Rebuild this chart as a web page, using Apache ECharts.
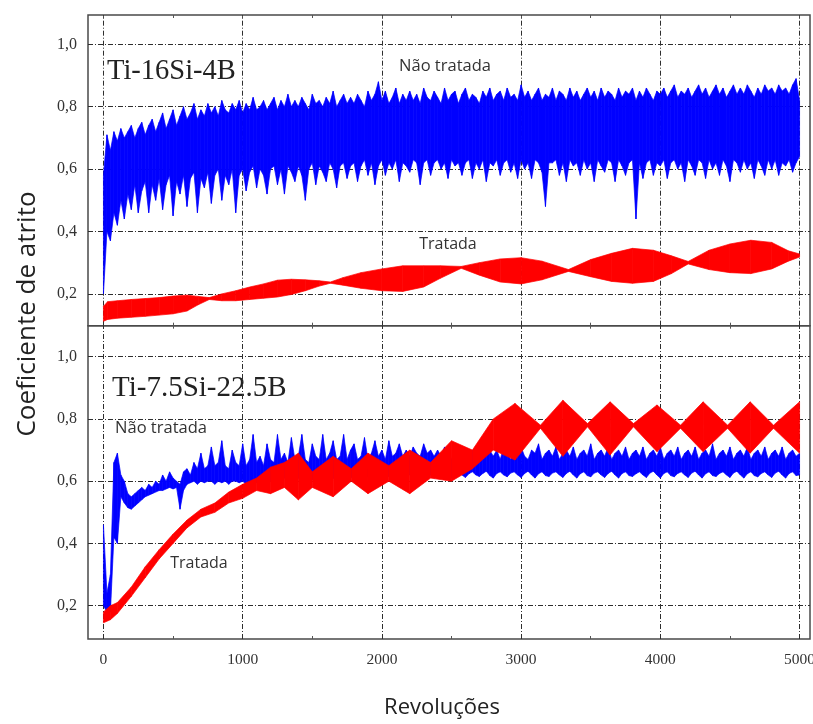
<!DOCTYPE html>
<html>
<head>
<meta charset="utf-8">
<script src="https://cdn.jsdelivr.net/npm/echarts@6/dist/echarts.min.js"></script>
<style>
  html, body { margin: 0; padding: 0; background: #fff; }
  #chart { width: 813px; height: 724px; }
</style>
</head>
<body>
<div id="chart"></div>
<script>
// Axis ticks
const revTicks = [0, 1000, 2000, 3000, 4000, 5000];
const revMinorTicks = [0, 500, 1000, 1500, 2000, 2500, 3000, 3500, 4000, 4500, 5000];
const coefTicks = [0.2, 0.4, 0.6, 0.8, 1.0];

// Sampling positions (revolutions) for the untreated (blue) signals
const revFine = [
  0, 25, 50, 75, 100, 125, 150, 175,
  200, 225, 250, 275, 300, 325, 350, 375,
  400, 425, 450, 475, 500, 525, 550, 575,
  600, 625, 650, 675, 700, 725, 750, 775,
  800, 825, 850, 875, 900, 925, 950, 975,
  1000, 1025, 1050, 1075, 1100, 1125, 1150, 1175,
  1200, 1225, 1250, 1275, 1300, 1325, 1350, 1375,
  1400, 1425, 1450, 1475, 1500, 1525, 1550, 1575,
  1600, 1625, 1650, 1675, 1700, 1725, 1750, 1775,
  1800, 1825, 1850, 1875, 1900, 1925, 1950, 1975,
  2000, 2025, 2050, 2075, 2100, 2125, 2150, 2175,
  2200, 2225, 2250, 2275, 2300, 2325, 2350, 2375,
  2400, 2425, 2450, 2475, 2500, 2525, 2550, 2575,
  2600, 2625, 2650, 2675, 2700, 2725, 2750, 2775,
  2800, 2825, 2850, 2875, 2900, 2925, 2950, 2975,
  3000, 3025, 3050, 3075, 3100, 3125, 3150, 3175,
  3200, 3225, 3250, 3275, 3300, 3325, 3350, 3375,
  3400, 3425, 3450, 3475, 3500, 3525, 3550, 3575,
  3600, 3625, 3650, 3675, 3700, 3725, 3750, 3775,
  3800, 3825, 3850, 3875, 3900, 3925, 3950, 3975,
  4000, 4025, 4050, 4075, 4100, 4125, 4150, 4175,
  4200, 4225, 4250, 4275, 4300, 4325, 4350, 4375,
  4400, 4425, 4450, 4475, 4500, 4525, 4550, 4575,
  4600, 4625, 4650, 4675, 4700, 4725, 4750, 4775,
  4800, 4825, 4850, 4875, 4900, 4925, 4950, 4975,
  5000
];

// Ti-16Si-4B, não tratada: lower / upper extent of the oscillation
const topUntreatedLo = [
  0.20, 0.40, 0.37, 0.46, 0.42, 0.50, 0.44, 0.52,
  0.47, 0.55, 0.46, 0.53, 0.56, 0.46, 0.55, 0.50,
  0.57, 0.47, 0.55, 0.58, 0.45, 0.56, 0.52, 0.58,
  0.48, 0.57, 0.59, 0.46, 0.57, 0.54, 0.59, 0.49,
  0.58, 0.60, 0.50, 0.58, 0.55, 0.60, 0.46, 0.58,
  0.60, 0.53, 0.59, 0.61, 0.54, 0.60, 0.58, 0.52,
  0.60, 0.61, 0.55, 0.60, 0.52, 0.61, 0.59, 0.56,
  0.61, 0.58, 0.50, 0.60, 0.62, 0.55, 0.61, 0.59,
  0.56, 0.62, 0.60, 0.54, 0.61, 0.62, 0.57, 0.61,
  0.62, 0.56, 0.61, 0.63, 0.58, 0.62, 0.55, 0.61,
  0.63, 0.58, 0.62, 0.60, 0.63, 0.56, 0.62, 0.61,
  0.59, 0.63, 0.62, 0.55, 0.62, 0.63, 0.58, 0.62,
  0.63, 0.60, 0.62, 0.57, 0.63, 0.61, 0.62, 0.58,
  0.62, 0.63, 0.57, 0.62, 0.60, 0.63, 0.56, 0.62,
  0.61, 0.63, 0.58, 0.62, 0.63, 0.59, 0.62, 0.57,
  0.63, 0.60, 0.62, 0.57, 0.63, 0.62, 0.59, 0.48,
  0.62, 0.62, 0.63, 0.58, 0.62, 0.56, 0.63, 0.61,
  0.62, 0.58, 0.63, 0.60, 0.62, 0.56, 0.63, 0.61,
  0.59, 0.63, 0.62, 0.56, 0.63, 0.61, 0.58, 0.62,
  0.63, 0.44, 0.62, 0.57, 0.62, 0.63, 0.58, 0.62,
  0.61, 0.63, 0.57, 0.62, 0.63, 0.60, 0.62, 0.56,
  0.63, 0.61, 0.58, 0.63, 0.62, 0.57, 0.63, 0.60,
  0.62, 0.58, 0.63, 0.61, 0.56, 0.63, 0.62, 0.59,
  0.63, 0.60, 0.62, 0.57, 0.63, 0.61, 0.58, 0.63,
  0.60, 0.63, 0.58, 0.62, 0.61, 0.63, 0.59, 0.62,
  0.64
];
const topUntreatedHi = [
  0.58, 0.71, 0.66, 0.72, 0.69, 0.73, 0.70, 0.72,
  0.74, 0.70, 0.73, 0.75, 0.71, 0.74, 0.76, 0.72,
  0.75, 0.78, 0.73, 0.76, 0.79, 0.74, 0.77, 0.80,
  0.76, 0.78, 0.81, 0.76, 0.79, 0.77, 0.81, 0.78,
  0.80, 0.77, 0.82, 0.79, 0.78, 0.81, 0.79, 0.82,
  0.78, 0.81, 0.79, 0.83, 0.79, 0.80, 0.82, 0.79,
  0.81, 0.83, 0.79, 0.82, 0.80, 0.84, 0.80, 0.82,
  0.80, 0.83, 0.81, 0.79, 0.84, 0.81, 0.82, 0.80,
  0.83, 0.81, 0.85, 0.80, 0.82, 0.84, 0.81, 0.83,
  0.81, 0.84, 0.82, 0.80, 0.85, 0.82, 0.84, 0.88,
  0.82, 0.85, 0.81, 0.83, 0.86, 0.81, 0.84, 0.82,
  0.85, 0.82, 0.84, 0.81, 0.86, 0.83, 0.82, 0.85,
  0.83, 0.81, 0.86, 0.82, 0.84, 0.85, 0.81, 0.84,
  0.86, 0.82, 0.84, 0.83, 0.81, 0.85, 0.83, 0.86,
  0.82, 0.84, 0.85, 0.82, 0.86, 0.83, 0.84, 0.82,
  0.87, 0.83, 0.85, 0.82, 0.84, 0.86, 0.82, 0.84,
  0.83, 0.86, 0.82, 0.85, 0.84, 0.82, 0.86, 0.83,
  0.85, 0.82, 0.84, 0.86, 0.83, 0.85, 0.82, 0.86,
  0.83, 0.85, 0.84, 0.82, 0.86, 0.83, 0.85, 0.84,
  0.86, 0.82, 0.85, 0.83, 0.86, 0.84, 0.82, 0.85,
  0.84, 0.86, 0.83, 0.85, 0.87, 0.83, 0.85, 0.84,
  0.86, 0.83, 0.85, 0.87, 0.84, 0.86, 0.83, 0.85,
  0.87, 0.84, 0.86, 0.83, 0.85, 0.87, 0.84, 0.86,
  0.84, 0.87, 0.85, 0.83, 0.86, 0.84, 0.87, 0.85,
  0.86, 0.84, 0.87, 0.85, 0.86, 0.84, 0.87, 0.89,
  0.82
];

// Ti-16Si-4B, tratada: envelope of the beating signal
const topTreatedRev = [0, 30, 100, 200, 300, 400, 500, 600, 680, 760, 850, 950, 1050, 1150, 1250, 1350, 1450, 1550, 1630, 1720, 1850, 2000, 2150, 2300, 2420, 2570, 2700, 2850, 3000, 3150, 3340, 3500, 3650, 3800, 3950, 4080, 4200, 4350, 4500, 4650, 4800, 4920, 5000];
const topTreatedLo = [0.112, 0.118, 0.122, 0.125, 0.128, 0.132, 0.136, 0.145, 0.165, 0.182, 0.178, 0.178, 0.182, 0.186, 0.190, 0.198, 0.210, 0.225, 0.234, 0.228, 0.218, 0.210, 0.208, 0.222, 0.250, 0.282, 0.260, 0.238, 0.232, 0.245, 0.272, 0.255, 0.240, 0.234, 0.240, 0.265, 0.296, 0.278, 0.268, 0.265, 0.280, 0.305, 0.318];
const topTreatedHi = [0.160, 0.175, 0.178, 0.182, 0.185, 0.188, 0.193, 0.196, 0.192, 0.188, 0.200, 0.210, 0.222, 0.232, 0.244, 0.247, 0.245, 0.242, 0.238, 0.252, 0.268, 0.280, 0.290, 0.290, 0.290, 0.288, 0.300, 0.312, 0.316, 0.305, 0.278, 0.310, 0.330, 0.346, 0.340, 0.322, 0.304, 0.340, 0.360, 0.372, 0.365, 0.338, 0.328];

// Ti-7.5Si-22.5B, não tratada
const botUntreatedLo = [
  0.20, 0.18, 0.18, 0.42, 0.40, 0.55, 0.53, 0.515,
  0.51, 0.52, 0.53, 0.54, 0.55, 0.555, 0.56, 0.565,
  0.57, 0.57, 0.575, 0.58, 0.575, 0.58, 0.51, 0.57,
  0.59, 0.595, 0.60, 0.59, 0.60, 0.595, 0.60, 0.60,
  0.59, 0.60, 0.595, 0.60, 0.59, 0.60, 0.60, 0.595,
  0.60, 0.59, 0.60, 0.60, 0.595, 0.60, 0.61, 0.60,
  0.60, 0.61, 0.60, 0.605, 0.61, 0.60, 0.61, 0.605,
  0.61, 0.60, 0.61, 0.61, 0.605, 0.61, 0.61, 0.60,
  0.61, 0.615, 0.61, 0.60, 0.61, 0.615, 0.61, 0.61,
  0.615, 0.61, 0.62, 0.61, 0.615, 0.61, 0.62, 0.615,
  0.61, 0.62, 0.615, 0.62, 0.61, 0.62, 0.615, 0.62,
  0.62, 0.615, 0.62, 0.61, 0.62, 0.615, 0.62, 0.61,
  0.615, 0.625, 0.63, 0.62, 0.61, 0.625, 0.63, 0.62,
  0.612, 0.624, 0.63, 0.62, 0.615, 0.625, 0.632, 0.618,
  0.61, 0.625, 0.63, 0.62, 0.614, 0.626, 0.63, 0.62,
  0.612, 0.625, 0.632, 0.62, 0.61, 0.624, 0.63, 0.618,
  0.615, 0.626, 0.63, 0.62, 0.612, 0.625, 0.632, 0.62,
  0.61, 0.624, 0.63, 0.618, 0.614, 0.626, 0.63, 0.62,
  0.612, 0.625, 0.632, 0.62, 0.61, 0.625, 0.63, 0.618,
  0.615, 0.624, 0.63, 0.62, 0.612, 0.626, 0.632, 0.62,
  0.61, 0.625, 0.63, 0.618, 0.614, 0.625, 0.63, 0.62,
  0.612, 0.626, 0.632, 0.62, 0.61, 0.624, 0.63, 0.618,
  0.615, 0.625, 0.63, 0.62, 0.612, 0.626, 0.632, 0.62,
  0.61, 0.624, 0.63, 0.618, 0.614, 0.625, 0.63, 0.62,
  0.612, 0.626, 0.632, 0.62, 0.61, 0.625, 0.63, 0.618,
  0.62
];
const botUntreatedHi = [
  0.46, 0.24, 0.30, 0.66, 0.69, 0.62, 0.60, 0.56,
  0.55, 0.56, 0.57, 0.58, 0.57, 0.59, 0.58, 0.60,
  0.59, 0.62, 0.60, 0.63, 0.61, 0.60, 0.59, 0.63,
  0.64, 0.62, 0.66, 0.64, 0.69, 0.64, 0.65, 0.71,
  0.65, 0.66, 0.73, 0.65, 0.64, 0.70, 0.66, 0.65,
  0.72, 0.65, 0.67, 0.75, 0.66, 0.68, 0.65, 0.72,
  0.67, 0.66, 0.75, 0.67, 0.69, 0.66, 0.74, 0.67,
  0.68, 0.75, 0.67, 0.66, 0.72, 0.68, 0.67, 0.75,
  0.67, 0.69, 0.73, 0.67, 0.68, 0.75, 0.67, 0.70,
  0.72, 0.67, 0.68, 0.74, 0.67, 0.69, 0.73, 0.68,
  0.70, 0.67, 0.73, 0.68, 0.69, 0.72, 0.68, 0.70,
  0.68, 0.71, 0.69, 0.68, 0.72, 0.69, 0.70, 0.68,
  0.70, 0.68, 0.71, 0.69, 0.67, 0.70, 0.68, 0.71,
  0.69, 0.67, 0.70, 0.68, 0.71, 0.67, 0.69, 0.70,
  0.68, 0.70, 0.67, 0.71, 0.69, 0.67, 0.70, 0.68,
  0.71, 0.68, 0.67, 0.70, 0.69, 0.72, 0.67, 0.69,
  0.70, 0.68, 0.71, 0.67, 0.69, 0.70, 0.68, 0.71,
  0.67, 0.69, 0.70, 0.68, 0.72, 0.67, 0.69, 0.70,
  0.68, 0.71, 0.67, 0.69, 0.70, 0.68, 0.71, 0.67,
  0.69, 0.70, 0.68, 0.71, 0.67, 0.69, 0.70, 0.68,
  0.71, 0.67, 0.69, 0.70, 0.68, 0.71, 0.67, 0.69,
  0.70, 0.68, 0.71, 0.67, 0.69, 0.70, 0.68, 0.72,
  0.67, 0.69, 0.70, 0.68, 0.71, 0.67, 0.69, 0.70,
  0.68, 0.71, 0.67, 0.69, 0.70, 0.68, 0.71, 0.67,
  0.69, 0.70, 0.68, 0.71, 0.67, 0.69, 0.70, 0.68,
  0.69
];

// Ti-7.5Si-22.5B, tratada
const botTreatedRev = [0, 50, 100, 200, 300, 400, 500, 600, 700, 800, 900, 1000, 1100, 1200, 1300, 1400, 1500, 1650, 1780, 1900, 2050, 2200, 2350, 2500, 2650, 2800, 2956, 3139, 3300, 3477, 3639, 3807, 3976, 4145, 4307, 4483, 4645, 4813, 5000];
const botTreatedLo = [0.145, 0.155, 0.175, 0.230, 0.290, 0.350, 0.400, 0.450, 0.485, 0.500, 0.530, 0.545, 0.570, 0.560, 0.580, 0.540, 0.580, 0.550, 0.600, 0.560, 0.600, 0.560, 0.610, 0.600, 0.640, 0.700, 0.668, 0.770, 0.680, 0.775, 0.684, 0.775, 0.695, 0.770, 0.695, 0.770, 0.690, 0.770, 0.690];
const botTreatedHi = [0.180, 0.200, 0.210, 0.260, 0.325, 0.380, 0.430, 0.475, 0.510, 0.530, 0.565, 0.590, 0.610, 0.645, 0.660, 0.690, 0.630, 0.680, 0.640, 0.690, 0.650, 0.700, 0.660, 0.730, 0.700, 0.800, 0.850, 0.780, 0.860, 0.785, 0.855, 0.785, 0.845, 0.780, 0.855, 0.780, 0.855, 0.780, 0.855];

const BLUE = '#0000ff';
const RED = '#ff0000';
const INK = '#333333';

// A filled band between the lower and upper extent, one quadrilateral per sample interval
function band(panel, rev, lo, hi, color, z) {
  const data = rev.map((r, i) => [r, lo[i], hi[i]]);
  return {
    type: 'custom', xAxisIndex: panel, yAxisIndex: panel, z: z,
    silent: true, animation: false, clip: true,
    encode: { x: 0, y: [1, 2] },
    data: data,
    renderItem: function (params, api) {
      const i = params.dataIndex;
      if (i >= data.length - 1) return null;
      const next = data[i + 1];
      const pts = [
        api.coord([api.value(0), api.value(1)]),
        api.coord([api.value(0), api.value(2)]),
        api.coord([next[0], next[2]]),
        api.coord([next[0], next[1]])
      ];
      return {
        type: 'polygon',
        shape: { points: pts },
        style: { fill: color, stroke: color, lineWidth: 0.7 }
      };
    }
  };
}

// Dash-dot grid drawn underneath the data of one panel
function gridLines(panel) {
  return {
    type: 'line', xAxisIndex: panel, yAxisIndex: panel, data: [], silent: true, z: 1,
    markLine: {
      silent: true, symbol: ['none', 'none'], animation: false, z: 1,
      label: { show: false },
      lineStyle: { color: '#2e2e2e', width: 1, type: [5, 2, 1, 2] },
      data: revTicks.map(v => ({ xAxis: v })).concat(coefTicks.map(v => ({ yAxis: v })))
    }
  };
}

const X_MIN = -111, X_MAX = 5075;
const serif = '"Liberation Serif", "DejaVu Serif", serif';
const sans = '"Open Sans", "Noto Sans", sans-serif';

function xAxis(panel, showLabels) {
  return {
    type: 'value', gridIndex: panel, min: X_MIN, max: X_MAX, position: 'bottom',
    axisLine: { show: false },
    splitLine: { show: false },
    axisTick: { show: true, inside: true, length: 3, customValues: revMinorTicks, lineStyle: { color: '#555' } },
    axisLabel: {
      show: showLabels, customValues: revTicks, margin: 13,
      fontFamily: serif, fontSize: 15.5, color: INK,
      formatter: v => String(v)
    }
  };
}
function xAxisTop(panel) {
  return {
    type: 'value', gridIndex: panel, min: X_MIN, max: X_MAX, position: 'top',
    axisLine: { show: false }, splitLine: { show: false },
    axisTick: { show: true, inside: true, length: 3, customValues: revMinorTicks, lineStyle: { color: '#555' } },
    axisLabel: { show: false }
  };
}
function yAxis(panel, min, max) {
  return {
    type: 'value', gridIndex: panel, min: min, max: max,
    axisLine: { show: false }, splitLine: { show: false }, axisTick: { show: false },
    axisLabel: {
      customValues: coefTicks, margin: 11,
      fontFamily: serif, fontSize: 16, color: INK,
      formatter: v => v.toFixed(1).replace('.', ',')
    }
  };
}

const chart = echarts.init(document.getElementById('chart'), null, { renderer: 'canvas' });
chart.setOption({
  animation: false,
  backgroundColor: '#ffffff',
  grid: [
    { left: 88, top: 15, width: 722, height: 310.7, show: true, borderColor: '#4a4a4a', borderWidth: 1.5, outerBoundsMode: 'none' },
    { left: 88, top: 325.7, width: 722, height: 313.3, show: true, borderColor: '#4a4a4a', borderWidth: 1.5, outerBoundsMode: 'none' }
  ],
  xAxis: [xAxis(0, false), xAxis(1, true), xAxisTop(0), xAxisTop(1)],
  yAxis: [yAxis(0, 0.098, 1.094), yAxis(1, 0.093, 1.0996)],
  series: [
    gridLines(0),
    gridLines(1),
    band(0, revFine, topUntreatedLo, topUntreatedHi, BLUE, 3),
    band(0, topTreatedRev, topTreatedLo, topTreatedHi, RED, 3),
    band(1, revFine, botUntreatedLo, botUntreatedHi, BLUE, 3),
    band(1, botTreatedRev, botTreatedLo, botTreatedHi, RED, 4)
  ],
  graphic: [
    { type: 'text', x: 107, y: 72, style: { text: 'Ti-16Si-4B', font: '28.5px ' + serif, fill: '#222', textVerticalAlign: 'middle' } },
    { type: 'text', x: 112, y: 388, style: { text: 'Ti-7.5Si-22.5B', font: '29px ' + serif, fill: '#222', textVerticalAlign: 'middle' } },
    { type: 'text', x: 445, y: 66, style: { text: 'Não tratada', font: '16.5px ' + sans, fill: INK, textAlign: 'center', textVerticalAlign: 'middle' } },
    { type: 'text', x: 448, y: 244, style: { text: 'Tratada', font: '16px ' + sans, fill: INK, textAlign: 'center', textVerticalAlign: 'middle' } },
    { type: 'text', x: 161, y: 428, style: { text: 'Não tratada', font: '16.5px ' + sans, fill: INK, textAlign: 'center', textVerticalAlign: 'middle' } },
    { type: 'text', x: 199, y: 563, style: { text: 'Tratada', font: '16px ' + sans, fill: INK, textAlign: 'center', textVerticalAlign: 'middle' } },
    { type: 'text', x: 442, y: 708, style: { text: 'Revoluções', font: '22px ' + sans, fill: '#222', textAlign: 'center', textVerticalAlign: 'middle' } },
    { type: 'text', x: 28, y: 314, rotation: Math.PI / 2, style: { text: 'Coeficiente de atrito', font: '26px ' + sans, fill: '#222', textAlign: 'center', textVerticalAlign: 'middle' } }
  ]
});
</script>
</body>
</html>
